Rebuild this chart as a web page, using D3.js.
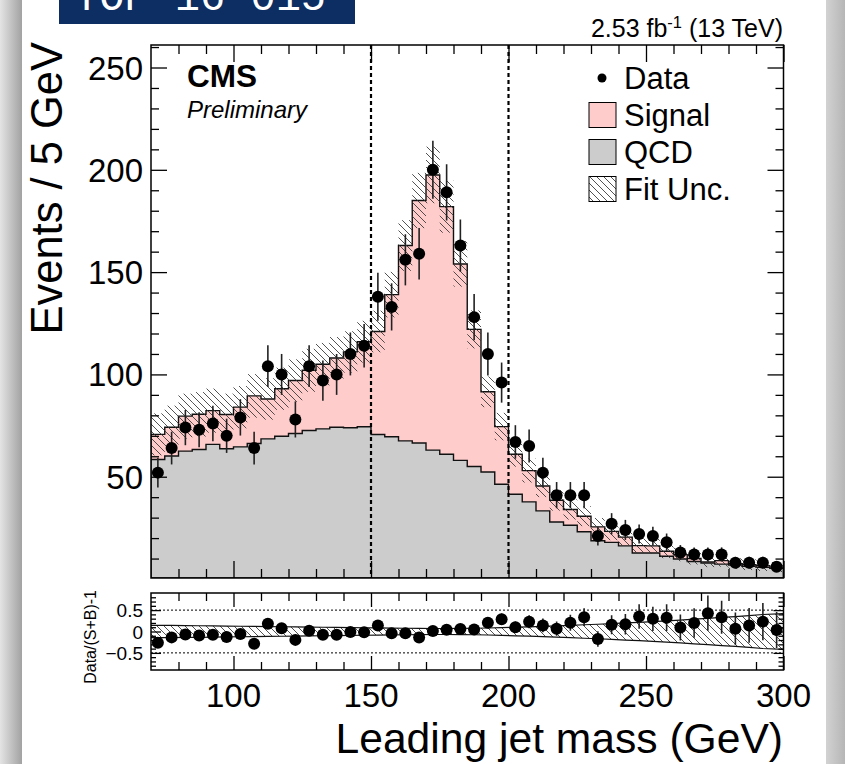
<!DOCTYPE html>
<html>
<head>
<meta charset="utf-8">
<script src="https://cdn.jsdelivr.net/npm/d3@7"></script>
<style>
  html, body { margin: 0; padding: 0; background: #fff; }
  svg text { font-family: "Liberation Sans", Arial, Helvetica, sans-serif; }
</style>
</head>
<body>
<div id="chart"></div>
<script>
// bin low edges (5 GeV bins)
var binLow = [70, 75, 80, 85, 90, 95, 100, 105, 110, 115, 120, 125, 130, 135, 140, 145,
              150, 155, 160, 165, 170, 175, 180, 185, 190, 195, 200, 205, 210, 215, 220, 225,
              230, 235, 240, 245, 250, 255, 260, 265, 270, 275, 280, 285, 290, 295];
var binWidth = 5;

// observed events per bin
var dataCounts = [52, 64, 74, 73, 76, 70, 79, 64, 104, 100, 78, 104, 97, 100, 110, 114,
                  138, 133, 156, 159, 200, 189, 163, 128, 110, 96, 67, 65, 52, 41, 41, 41,
                  21, 27, 24, 22, 21, 18, 13, 12, 12, 12, 8, 8, 8, 6];

// fitted QCD background
var qcdYield = [58.4, 60.1, 62.5, 63.3, 65.8, 63.7, 64.6, 66.2, 68.5, 69.8, 71.1, 72.6, 73.4, 74.2, 73.9, 74.4,
                70.6, 69.5, 67.5, 66.5, 63, 61, 58, 55, 52.3, 46.3, 41.4, 37.7, 33.3, 27.9, 26.3, 23.1,
                18.7, 17.9, 16.2, 12.7, 12.7, 11.1, 9.8, 8.6, 7.8, 7.3, 6.8, 6.2, 5.7, 5.2];

// fitted signal (stacked on QCD)
var signalYield = [12.3, 14.1, 17.1, 17.2, 16.5, 16.7, 19.4, 23.3, 19.5, 23.2, 25.9, 29.4, 31.6, 33.8, 37.1, 41.6,
                   50.4, 69.5, 95.5, 118.5, 134.5, 121, 96, 67, 39.2, 28.2, 19.6, 15.3, 12.2, 10.6, 7.7, 7.6,
                   6.8, 5.4, 4.3, 3.6, 3.5, 2.5, 2.1, 1.4, 0.6, 1.7, 0.7, 0.8, 0.8, 0.6];

// relative fit uncertainty on S+B
var fitUnc = [0.145, 0.142, 0.138, 0.135, 0.131, 0.127, 0.123, 0.119, 0.115, 0.111, 0.107, 0.103, 0.099, 0.095, 0.091, 0.088,
              0.084, 0.080, 0.076, 0.073, 0.070, 0.070, 0.072, 0.076, 0.082, 0.090, 0.100, 0.110, 0.120, 0.132, 0.145, 0.158,
              0.170, 0.185, 0.200, 0.215, 0.232, 0.250, 0.268, 0.288, 0.308, 0.328, 0.350, 0.373, 0.397, 0.420];

var mainYTicks = [50, 100, 150, 200, 250];
var xLabelTicks = [100, 150, 200, 250, 300];
var ratioYTicks = [-0.5, 0, 0.5];
var windowLines = [150, 200];
var legendItems = ["Data", "Signal", "QCD", "Fit Unc."];

var W = 845, H = 764;

var svg = d3.select("#chart").append("svg")
  .attr("width", W).attr("height", H)
  .attr("viewBox", "0 0 " + W + " " + H);

var defs = svg.append("defs");
var hatch = defs.append("pattern")
  .attr("id", "hatch")
  .attr("patternUnits", "userSpaceOnUse")
  .attr("width", 7).attr("height", 7);
hatch.append("path")
  .attr("d", "M-1,-1 L8,8 M-1,6 L1,8 M6,-1 L8,1")
  .attr("stroke", "#333").attr("stroke-width", 0.85);

var gL = defs.append("linearGradient").attr("id", "shadeL");
gL.append("stop").attr("offset", "0%").attr("stop-color", "#e4e4e4");
gL.append("stop").attr("offset", "100%").attr("stop-color", "#a2a2a2");
var gR = defs.append("linearGradient").attr("id", "shadeR");
gR.append("stop").attr("offset", "0%").attr("stop-color", "#d2d2d2");
gR.append("stop").attr("offset", "100%").attr("stop-color", "#b6b6b6");

defs.append("clipPath").attr("id", "clipMain")
  .append("rect").attr("x", 151).attr("y", 45).attr("width", 632.5).attr("height", 533);
defs.append("clipPath").attr("id", "clipRatio")
  .append("rect").attr("x", 151).attr("y", 593).attr("width", 632.5).attr("height", 77);
defs.append("clipPath").attr("id", "clipBanner")
  .append("rect").attr("x", 59).attr("y", 0).attr("width", 296).attr("height", 24);

// page decoration
svg.append("rect").attr("x", 0).attr("y", 0).attr("width", 22).attr("height", H).attr("fill", "url(#shadeL)");
svg.append("rect").attr("x", 826).attr("y", 0).attr("width", 19).attr("height", H).attr("fill", "url(#shadeR)");
var banner = svg.append("g").attr("clip-path", "url(#clipBanner)");
banner.append("rect").attr("x", 59).attr("y", 0).attr("width", 296).attr("height", 24).attr("fill", "#0c2e62");
banner.append("text").attr("x", 74).attr("y", 10)
  .style("font-family", "Liberation Mono, Courier New, monospace").attr("font-size", 42)
  .attr("fill", "#fff").text("TOP-16-015");

// scales
var x = d3.scaleLinear().domain([70, 300]).range([151, 783.5]);
var y = d3.scaleLinear().domain([0.5, 261]).range([578, 45]);
var yr = d3.scaleLinear().domain([-0.9, 0.9]).range([670, 593]);

var bins = binLow.map(function(lo, i) {
  var tot = qcdYield[i] + signalYield[i];
  return {
    lo: lo, hi: lo + binWidth, c: lo + binWidth / 2,
    qcd: qcdYield[i], tot: tot, n: dataCounts[i], u: fitUnc[i]
  };
});

function stepArea(key) {
  var pts = [[x(70), y(0.5)]];
  bins.forEach(function(b) {
    pts.push([x(b.lo), y(b[key])]);
    pts.push([x(b.hi), y(b[key])]);
  });
  pts.push([x(300), y(0.5)]);
  return "M" + pts.map(function(p) { return p[0] + "," + p[1]; }).join("L") + "Z";
}

var main = svg.append("g").attr("clip-path", "url(#clipMain)");

main.append("path").attr("d", stepArea("tot"))
  .attr("fill", "#ffcccc").attr("stroke", "#111").attr("stroke-width", 1.4);
main.append("path").attr("d", stepArea("qcd"))
  .attr("fill", "#cccccc").attr("stroke", "#111").attr("stroke-width", 1.4);

main.selectAll("rect.unc").data(bins).enter().append("rect")
  .attr("class", "unc")
  .attr("x", function(d) { return x(d.lo); })
  .attr("width", function(d) { return x(d.hi) - x(d.lo); })
  .attr("y", function(d) { return y(d.tot * (1 + d.u)); })
  .attr("height", function(d) { return y(d.tot * (1 - d.u)) - y(d.tot * (1 + d.u)); })
  .attr("fill", "url(#hatch)");

main.selectAll("line.win").data(windowLines).enter().append("line")
  .attr("x1", function(d) { return x(d); }).attr("x2", function(d) { return x(d); })
  .attr("y1", 45).attr("y2", 578)
  .attr("stroke", "#000").attr("stroke-width", 2.2).attr("stroke-dasharray", "4,3");

main.selectAll("line.err").data(bins).enter().append("line")
  .attr("x1", function(d) { return x(d.c); }).attr("x2", function(d) { return x(d.c); })
  .attr("y1", function(d) { return y(d.n + Math.sqrt(d.n)); })
  .attr("y2", function(d) { return y(Math.max(d.n - Math.sqrt(d.n), 0.5)); })
  .attr("stroke", "#222").attr("stroke-width", 1.6);
main.selectAll("circle.pt").data(bins).enter().append("circle")
  .attr("cx", function(d) { return x(d.c); }).attr("cy", function(d) { return y(d.n); })
  .attr("r", 6).attr("fill", "#000");

// ratio panel
var ratio = svg.append("g").attr("clip-path", "url(#clipRatio)");
ratio.selectAll("line.ref").data([0.5, -0.5]).enter().append("line")
  .attr("x1", 151).attr("x2", 783.5)
  .attr("y1", function(d) { return yr(d); }).attr("y2", function(d) { return yr(d); })
  .attr("stroke", "#000").attr("stroke-width", 1).attr("stroke-dasharray", "2,2");

var bandX = function(d, i) { return i === 0 ? x(70) : (i === bins.length - 1 ? x(300) : x(d.c)); };
var bandArea = d3.area().x(bandX)
  .y0(function(d) { return yr(-d.u); })
  .y1(function(d) { return yr(d.u); });
ratio.append("path").attr("d", bandArea(bins)).attr("fill", "url(#hatch)");
ratio.append("path").attr("d", d3.line().x(bandX).y(function(d) { return yr(d.u); })(bins))
  .attr("fill", "none").attr("stroke", "#111").attr("stroke-width", 1.2);
ratio.append("path").attr("d", d3.line().x(bandX).y(function(d) { return yr(-d.u); })(bins))
  .attr("fill", "none").attr("stroke", "#111").attr("stroke-width", 1.2);

ratio.selectAll("line.rerr").data(bins).enter().append("line")
  .attr("x1", function(d) { return x(d.c); }).attr("x2", function(d) { return x(d.c); })
  .attr("y1", function(d) { return yr((d.n + Math.sqrt(d.n)) / d.tot - 1); })
  .attr("y2", function(d) { return yr((d.n - Math.sqrt(d.n)) / d.tot - 1); })
  .attr("stroke", "#222").attr("stroke-width", 1.6);
ratio.selectAll("circle.rpt").data(bins).enter().append("circle")
  .attr("cx", function(d) { return x(d.c); }).attr("cy", function(d) { return yr(d.n / d.tot - 1); })
  .attr("r", 6).attr("fill", "#000");

// axes and ticks (ROOT style: inward, all four sides)
function ticks(axisFn, scale, values, size, tx, ty) {
  var g = svg.append("g").attr("transform", "translate(" + tx + "," + ty + ")")
    .call(axisFn(scale).tickValues(values).tickSize(size).tickFormat(""));
  g.select(".domain").remove();
  g.selectAll("line").attr("stroke", "#000").attr("stroke-width", 1.3);
  return g;
}
var xMajor = [100, 150, 200, 250, 300];
var xMinor = d3.range(80, 300, 10).filter(function(v) { return v % 50 !== 0; });
var yMinor = d3.range(10, 261, 10).filter(function(v) { return v % 50 !== 0; });
var rMinor = d3.range(-0.8, 0.85, 0.1).filter(function(v) { return Math.abs(v * 2 - Math.round(v * 2)) > 0.01; });

// main frame
ticks(d3.axisBottom, x, xMajor, -17, 0, 578);
ticks(d3.axisBottom, x, xMinor, -9, 0, 578);
ticks(d3.axisTop, x, xMajor, -17, 0, 45);
ticks(d3.axisTop, x, xMinor, -9, 0, 45);
ticks(d3.axisLeft, y, mainYTicks, -16, 151, 0);
ticks(d3.axisLeft, y, yMinor, -8, 151, 0);
ticks(d3.axisRight, y, mainYTicks, -16, 783.5, 0);
ticks(d3.axisRight, y, yMinor, -8, 783.5, 0);
svg.append("rect").attr("x", 151).attr("y", 45).attr("width", 632.5).attr("height", 533)
  .attr("fill", "none").attr("stroke", "#000").attr("stroke-width", 1.5);

// ratio frame
ticks(d3.axisBottom, x, xMajor, -14, 0, 670);
ticks(d3.axisBottom, x, xMinor, -8, 0, 670);
ticks(d3.axisTop, x, xMajor, -14, 0, 593);
ticks(d3.axisTop, x, xMinor, -8, 0, 593);
ticks(d3.axisLeft, yr, ratioYTicks, -10, 151, 0);
ticks(d3.axisLeft, yr, rMinor, -5, 151, 0);
ticks(d3.axisRight, yr, ratioYTicks, -10, 783.5, 0);
ticks(d3.axisRight, yr, rMinor, -5, 783.5, 0);
svg.append("rect").attr("x", 151).attr("y", 593).attr("width", 632.5).attr("height", 77)
  .attr("fill", "none").attr("stroke", "#000").attr("stroke-width", 1.5);

// tick labels
svg.selectAll("text.ylab").data(mainYTicks).enter().append("text")
  .attr("x", 143).attr("y", function(d) { return y(d) + 12; })
  .attr("text-anchor", "end").attr("font-size", 33).text(function(d) { return d; });
svg.selectAll("text.xlab").data(xLabelTicks).enter().append("text")
  .attr("x", function(d) { return x(d); }).attr("y", 707)
  .attr("text-anchor", "middle").attr("font-size", 33).text(function(d) { return d; });
svg.selectAll("text.rlab").data(ratioYTicks).enter().append("text")
  .attr("x", 143).attr("y", function(d) { return yr(d) + 7; })
  .attr("text-anchor", "end").attr("font-size", 19)
  .text(function(d) { return d === 0 ? "0" : d3.format(".1f")(d); });

// titles
svg.append("text").attr("x", 783).attr("y", 753).attr("text-anchor", "end")
  .attr("font-size", 42.6).text("Leading jet mass (GeV)");
svg.append("text").attr("transform", "translate(62,42) rotate(-90)").attr("text-anchor", "end")
  .attr("font-size", 43.5).text("Events / 5 GeV");
svg.append("text").attr("transform", "translate(96,590) rotate(-90)").attr("text-anchor", "end")
  .attr("font-size", 16).text("Data/(S+B)-1");

svg.append("text").attr("x", 187).attr("y", 87).attr("font-size", 31.5).attr("font-weight", "bold").text("CMS");
svg.append("text").attr("x", 187).attr("y", 118).attr("font-size", 24).attr("font-style", "italic").text("Preliminary");

var lumi = svg.append("text").attr("x", 783).attr("y", 37).attr("text-anchor", "end").attr("font-size", 25);
lumi.append("tspan").text("2.53 fb");
lumi.append("tspan").attr("font-size", 16.5).attr("dy", -9).text("-1");
lumi.append("tspan").attr("dy", 9).text(" (13 TeV)");

// legend
var legY = [78, 115, 152, 189];
var leg = svg.append("g");
leg.append("circle").attr("cx", 602).attr("cy", legY[0]).attr("r", 4.5).attr("fill", "#000");
leg.append("rect").attr("x", 589).attr("y", legY[1] - 12.5).attr("width", 27).attr("height", 25)
  .attr("fill", "#ffcccc").attr("stroke", "#000").attr("stroke-width", 1);
leg.append("rect").attr("x", 589).attr("y", legY[2] - 12.5).attr("width", 27).attr("height", 25)
  .attr("fill", "#cccccc").attr("stroke", "#000").attr("stroke-width", 1);
leg.append("rect").attr("x", 589).attr("y", legY[3] - 12.5).attr("width", 27).attr("height", 25)
  .attr("fill", "url(#hatch)").attr("stroke", "#000").attr("stroke-width", 1);
leg.selectAll("text").data(legendItems).enter().append("text")
  .attr("x", 624).attr("y", function(d, i) { return legY[i] + 11; })
  .attr("font-size", 31).text(function(d) { return d; });
</script>
</body>
</html>
